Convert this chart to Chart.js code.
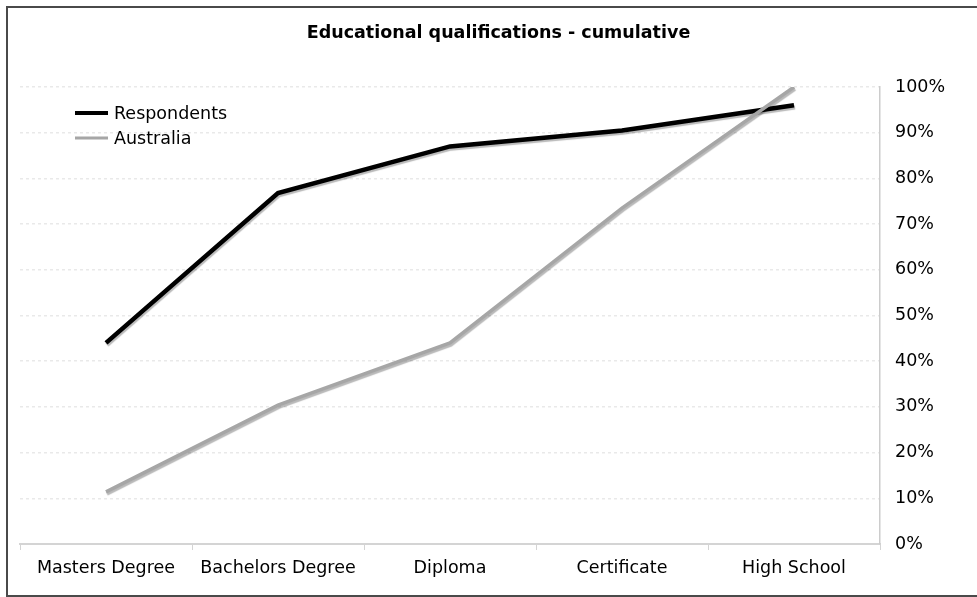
<!DOCTYPE html>
<html>
<head>
<meta charset="utf-8">
<script src="https://cdn.jsdelivr.net/npm/chart.js@4"></script>
<style>
  html, body { margin: 0; padding: 0; background: #ffffff; }
  #wrap { width: 977px; height: 597px; position: relative; }
</style>
</head>
<body>
<div id="wrap"><canvas id="c" width="977" height="597"></canvas></div>
<script>
const chartTitle = 'Educational qualifications - cumulative';
const categories = ['Masters Degree', 'Bachelors Degree', 'Diploma', 'Certificate', 'High School'];
const respondents = [44, 76.8, 87, 90.5, 96];
const australia = [11.4, 30.4, 44, 73.5, 100];
const seriesNames = ['Respondents', 'Australia'];
const seriesColors = ['#000000', '#a6a6a6'];
const yTicks = [0, 10, 20, 30, 40, 50, 60, 70, 80, 90, 100];

const FONT = 'DejaVu Sans, Verdana, sans-serif';

const frame = {
  id: 'frame',
  beforeDraw(chart) {
    const ctx = chart.ctx;
    ctx.save();
    ctx.fillStyle = '#ffffff';
    ctx.fillRect(0, 0, chart.width, chart.height);
    ctx.strokeStyle = '#4a4a4a';
    ctx.lineWidth = 2;
    ctx.strokeRect(7, 7, chart.width + 10, 589);
    ctx.restore();
  }
};

const shadow = {
  id: 'shadow',
  beforeDatasetsDraw(chart) {
    const ctx = chart.ctx;
    ctx.save();
    ctx.shadowColor = 'rgba(0,0,0,0.28)';
    ctx.shadowOffsetX = 1;
    ctx.shadowOffsetY = 2;
    ctx.shadowBlur = 1;
  },
  afterDatasetsDraw(chart) {
    chart.ctx.restore();
  }
};

const innerLegend = {
  id: 'innerLegend',
  afterDraw(chart) {
    const ctx = chart.ctx;
    ctx.save();
    ctx.font = '17.5px ' + FONT;
    ctx.textBaseline = 'middle';
    ctx.textAlign = 'left';
    const widths = [4, 3];
    chart.data.datasets.forEach((ds, i) => {
      const y = 113 + i * 25;
      ctx.strokeStyle = ds.borderColor;
      ctx.lineWidth = widths[i];
      ctx.beginPath();
      ctx.moveTo(75, y);
      ctx.lineTo(108, y);
      ctx.stroke();
      ctx.fillStyle = '#000000';
      ctx.fillText(ds.label, 114, y + 1);
    });
    ctx.restore();
  }
};

new Chart(document.getElementById('c'), {
  type: 'line',
  data: {
    labels: categories,
    datasets: [
      { label: seriesNames[0], data: respondents, borderColor: seriesColors[0], borderWidth: 4.5, pointRadius: 0, tension: 0, order: 1, fill: false },
      { label: seriesNames[1], data: australia, borderColor: seriesColors[1], borderWidth: 3.5, pointRadius: 0, tension: 0, order: 0, fill: false }
    ]
  },
  options: {
    responsive: false,
    animation: false,
    layout: { padding: { left: 20, right: 0, top: 0, bottom: 0 } },
    plugins: {
      legend: { display: false },
      tooltip: { enabled: false },
      title: {
        display: true,
        text: chartTitle,
        color: '#000000',
        font: { family: FONT, size: 17.5, weight: 'bold' },
        padding: { top: 23, bottom: 43 }
      }
    },
    scales: {
      x: {
        type: 'category',
        offset: true,
        afterFit(scale) { scale.height = 53; },
        grid: { offset: true, drawOnChartArea: false, drawTicks: true, tickLength: 6, color: '#d4d4d4' },
        border: { color: '#d4d4d4', width: 2 },
        ticks: { color: '#000000', font: { family: FONT, size: 17.5 }, padding: 8, maxRotation: 0, autoSkip: false }
      },
      y: {
        position: 'right',
        min: 0,
        max: 100,
        afterFit(scale) { scale.width = 97; },
        afterBuildTicks(scale) { scale.ticks = yTicks.map(v => ({ value: v })); },
        grid: { drawTicks: false, color: '#e9e9e9', lineWidth: 1.5 },
        border: { color: '#cccccc', width: 1.5, dash: [3, 3] },
        ticks: {
          color: '#000000',
          font: { family: FONT, size: 17.5 },
          padding: 15,
          callback: v => v + '%'
        }
      }
    }
  },
  plugins: [frame, shadow, innerLegend]
});
</script>
</body>
</html>
